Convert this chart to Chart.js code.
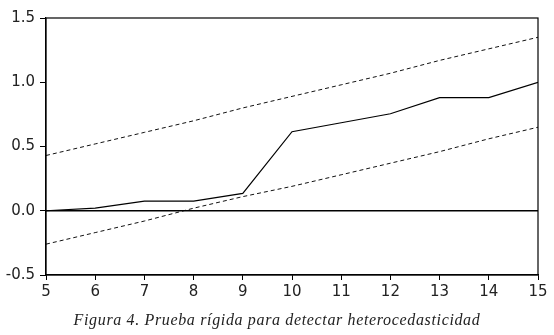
<!DOCTYPE html>
<html>
<head>
<meta charset="utf-8">
<script src="https://cdn.jsdelivr.net/npm/chart.js@4/dist/chart.umd.min.js"></script>
<style>
  html, body { margin: 0; padding: 0; background: #fff; }
  #wrap { position: relative; width: 554px; height: 335px; }
  #c { position: absolute; left: 0; top: 0; }
  #cap { position: absolute; left: 0; width: 554px; top: 311px; text-align: center;
         font-family: "Liberation Serif", "DejaVu Serif", serif; font-style: italic;
         font-size: 16px; color: #222; letter-spacing: 0.65px; line-height: 18px; }
</style>
</head>
<body>
<div id="wrap">
  <canvas id="c" width="554" height="335"></canvas>
  <div id="cap">Figura 4. Prueba rígida para detectar heterocedasticidad</div>
</div>
<script>
const xValues = [5, 6, 7, 8, 9, 10, 11, 12, 13, 14, 15];
const cusumSq = [0.00, 0.02, 0.075, 0.075, 0.135, 0.615, 0.685, 0.755, 0.88, 0.88, 1.00];
const upperBand = [0.43, 0.52, 0.61, 0.70, 0.80, 0.89, 0.98, 1.07, 1.17, 1.26, 1.35];
const lowerBand = [-0.26, -0.17, -0.08, 0.02, 0.11, 0.19, 0.28, 0.37, 0.46, 0.56, 0.65];
const zeroLine = [0, 0];
const zeroX = [5, 15];
const yTicks = [-0.5, 0.0, 0.5, 1.0, 1.5];

const pts = (xs, ys) => xs.map((x, i) => ({x: x, y: ys[i]}));

const frame = {
  id: 'frame',
  afterDraw(chart) {
    const {ctx, chartArea: a} = chart;
    ctx.save();
    ctx.strokeStyle = '#000';
    ctx.lineWidth = 1.2;
    ctx.strokeRect(a.left, a.top, a.right - a.left, a.bottom - a.top);
    ctx.restore();
  }
};

new Chart(document.getElementById('c'), {
  type: 'line',
  data: {
    datasets: [
      { data: pts(zeroX, zeroLine), borderColor: '#000', borderWidth: 1.3, pointRadius: 0 },
      { data: pts(xValues, upperBand), borderColor: '#111', borderWidth: 1, borderDash: [4, 3], pointRadius: 0 },
      { data: pts(xValues, lowerBand), borderColor: '#111', borderWidth: 1, borderDash: [4, 3], pointRadius: 0 },
      { data: pts(xValues, cusumSq), borderColor: '#000', borderWidth: 1.2, pointRadius: 0 }
    ]
  },
  options: {
    responsive: false,
    animation: false,
    events: [],
    layout: { padding: { left: 0, top: 18, right: 16, bottom: 0 } },
    plugins: { legend: { display: false }, tooltip: { enabled: false } },
    scales: {
      x: {
        type: 'linear', min: 5, max: 15,
        afterFit(s) { s.height = 60; },
        ticks: { stepSize: 1, color: '#222', padding: 3, maxRotation: 0,
                 font: { family: 'DejaVu Sans', size: 15 } },
        grid: { drawOnChartArea: false, drawTicks: true, tickLength: 5, color: '#000' },
        border: { display: true, color: '#000', width: 1.2 }
      },
      y: {
        type: 'linear', min: -0.5, max: 1.5,
        afterFit(s) { s.width = 46; },
        afterBuildTicks(s) { s.ticks = yTicks.map(v => ({ value: v })); },
        ticks: { color: '#222', padding: 5,
                 callback: v => Number(v).toFixed(1),
                 font: { family: 'DejaVu Sans', size: 15 } },
        grid: { drawOnChartArea: false, drawTicks: true, tickLength: 6, color: '#000' },
        border: { display: true, color: '#000', width: 1.2 }
      }
    }
  },
  plugins: [frame]
});
</script>
</body>
</html>
